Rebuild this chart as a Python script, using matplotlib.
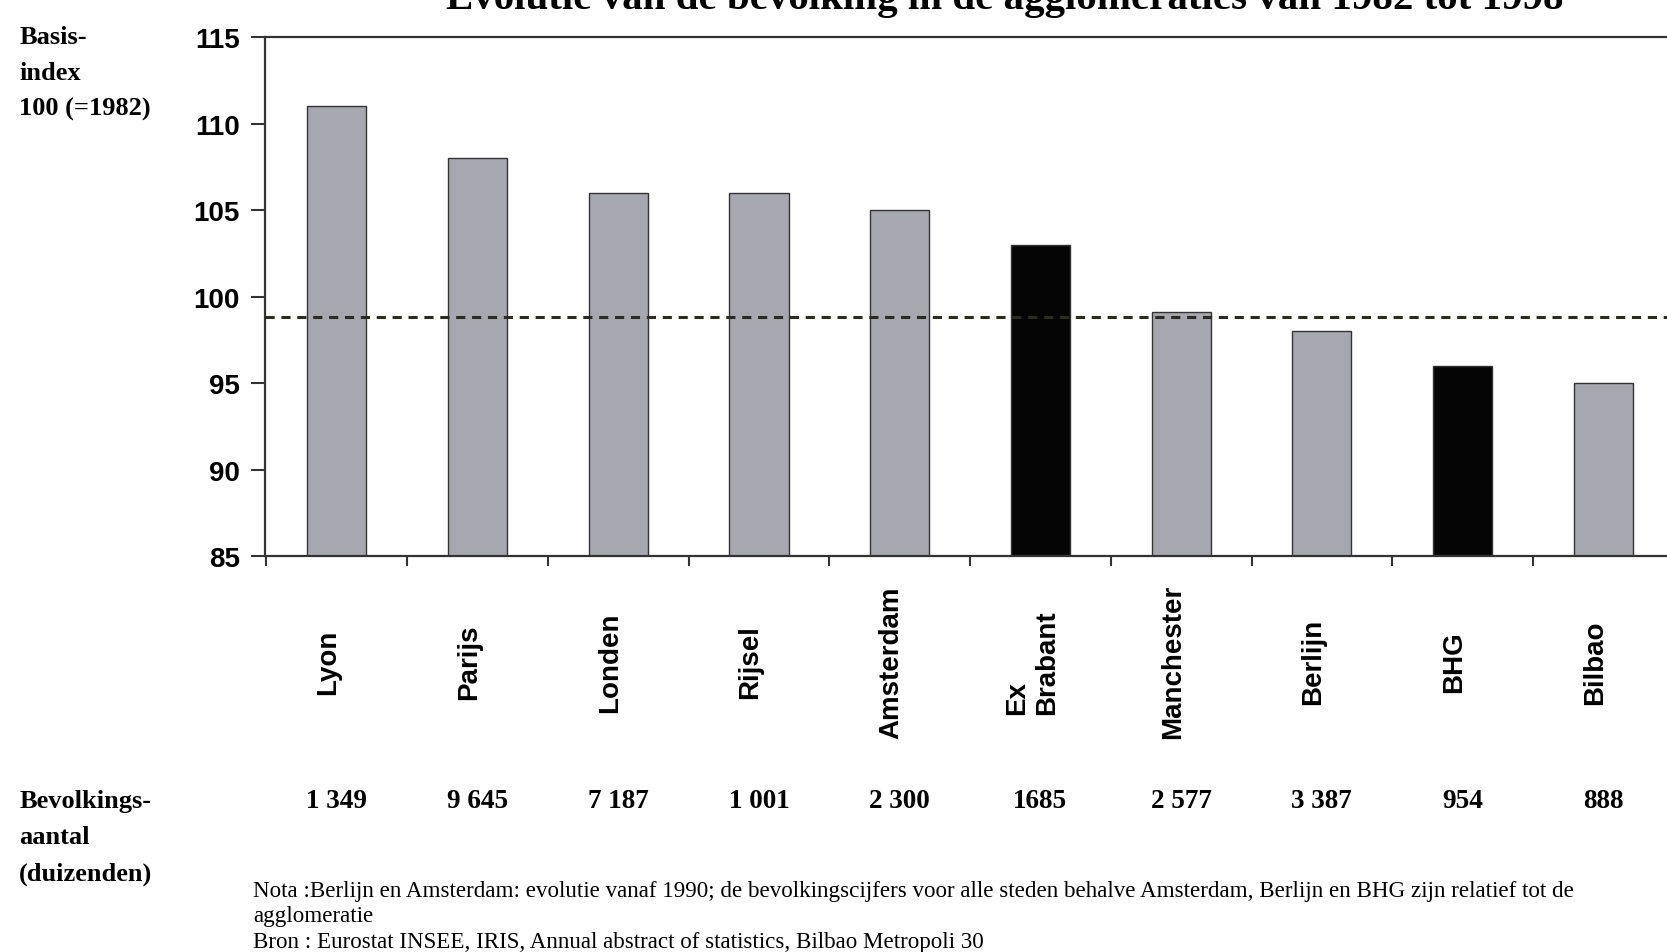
import matplotlib
matplotlib.use('Agg')
import matplotlib.pyplot as plt
import numpy as np
from matplotlib.transforms import blended_transform_factory

# ---- data ----
categories = ['Lyon', 'Parijs', 'Londen', 'Rijsel', 'Amsterdam', 'Ex\nBrabant',
              'Manchester', 'Berlijn', 'BHG', 'Bilbao']
index_values = [111, 108, 106, 106, 105, 103, 99.1, 98, 96, 95]
population = ['1 349', '9 645', '7 187', '1 001', '2 300', '1685', '2 577',
              '3 387', '954', '888']
highlight = [False, False, False, False, False, True, False, False, True, False]
average_level = 98.8
yticks = [85, 90, 95, 100, 105, 110, 115]

title = 'Evolutie van de bevolking in de agglomeraties van 1982 tot 1998'
y_label_lines = ['Basis-', 'index', '100 (=1982)']
pop_label_lines = ['Bevolkings-', 'aantal', '(duizenden)']
note_lines = ['Nota :Berlijn en Amsterdam: evolutie vanaf 1990; de bevolkingscijfers voor alle steden behalve Amsterdam, Berlijn en BHG zijn relatief tot de',
              'agglomeratie',
              'Bron : Eurostat INSEE, IRIS, Annual abstract of statistics, Bilbao Metropoli 30']

# ---- styling ----
SERIF = 'Liberation Serif'
SANS = 'Liberation Sans'
gray = '#a7a7af'
black = '#050505'

fig = plt.figure(figsize=(16.67, 9.53), dpi=100)
ax = fig.add_axes([0.159, 0.4155, 0.845, 0.5445])

x = np.arange(len(categories))
colors = [black if h else gray for h in highlight]
ax.bar(x, index_values, width=0.42, color=colors, edgecolor='#333333',
       linewidth=1.0, zorder=2)
ax.axhline(average_level, color='#2b2b1e', linewidth=2.2, dashes=(3, 2.2), zorder=3)

ax.set_ylim(85, 115)
ax.set_xlim(-0.51, 9.39)
ax.set_yticks(yticks)
ax.set_yticklabels([str(t) for t in yticks], fontfamily=SANS, fontweight='bold',
                   fontsize=20)
ax.tick_params(axis='y', direction='out', length=10, width=1.5, color='#333333', pad=8)
ax.set_xticks([])
ax.set_xticks(np.arange(-0.5, len(categories), 1.0), minor=True)
ax.tick_params(axis='x', which='minor', direction='out', length=7, width=1.5,
               color='#333333')
ax.spines['right'].set_visible(False)
for s in ['top', 'left', 'bottom']:
    ax.spines[s].set_linewidth(1.6)
    ax.spines[s].set_color('#333333')

trans = blended_transform_factory(ax.transData, fig.transFigure)
for i, (cat, pop) in enumerate(zip(categories, population)):
    ax.text(i - 0.06, 0.305, cat, transform=trans, rotation=90, ha='center',
            va='center', multialignment='left', fontfamily=SANS,
            fontweight='bold', fontsize=20, clip_on=False)
    ax.text(i, 0.159, pop, transform=trans, ha='center', va='center',
            fontfamily=SERIF, fontweight='bold', fontsize=19.5, clip_on=False)

for j, line in enumerate(y_label_lines):
    fig.text(0.0115, 0.961 - j * 0.038, line, ha='left', va='center',
             fontfamily=SERIF, fontweight='bold', fontsize=19)
for j, line in enumerate(pop_label_lines):
    fig.text(0.0115, 0.159 - j * 0.038, line, ha='left', va='center',
             fontfamily=SERIF, fontweight='bold', fontsize=19)
for j, line in enumerate(note_lines):
    fig.text(0.152, 0.065 - j * 0.027, line, ha='left', va='center',
             fontfamily=SERIF, fontsize=16.6)

fig.text(0.603, 0.991, title, ha='center', va='baseline', fontfamily=SERIF,
         fontweight='bold', fontsize=29.5)

fig.savefig('out.png', dpi=100)
